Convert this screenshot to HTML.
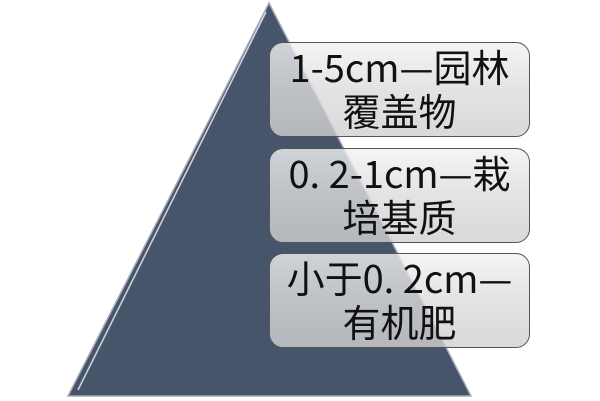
<!DOCTYPE html>
<html><head><meta charset="utf-8"><style>
body{margin:0;width:600px;height:401px;background:#fff;overflow:hidden;position:relative;font-family:"Noto Sans CJK SC","Liberation Sans",sans-serif}
.b{position:absolute;left:269px;width:261px;height:95px;border:1.5px solid #555;border-radius:14px;box-sizing:border-box;background:linear-gradient(#f2f2f2cc,#dcdcdccc 50%,#d0d0d0cc);text-align:center;font-size:38px;line-height:44px;color:#111;padding-top:1px;white-space:nowrap}
</style></head><body>
<svg width="600" height="401" style="position:absolute;left:0;top:0">
<polygon points="269,3 68,396 471,396" fill="#47556b" stroke="#aab" stroke-width="1.5"/>
<polyline points="266,12 78,390" fill="none" stroke="#cfd6e0" stroke-width="1.5"/>
</svg>
<div class="b" style="top:42px">1-5cm—园林<br>覆盖物</div>
<div class="b" style="top:148px">0. 2-1cm—栽<br>培基质</div>
<div class="b" style="top:253px">小于0. 2cm—<br>有机肥</div>
</body></html>
